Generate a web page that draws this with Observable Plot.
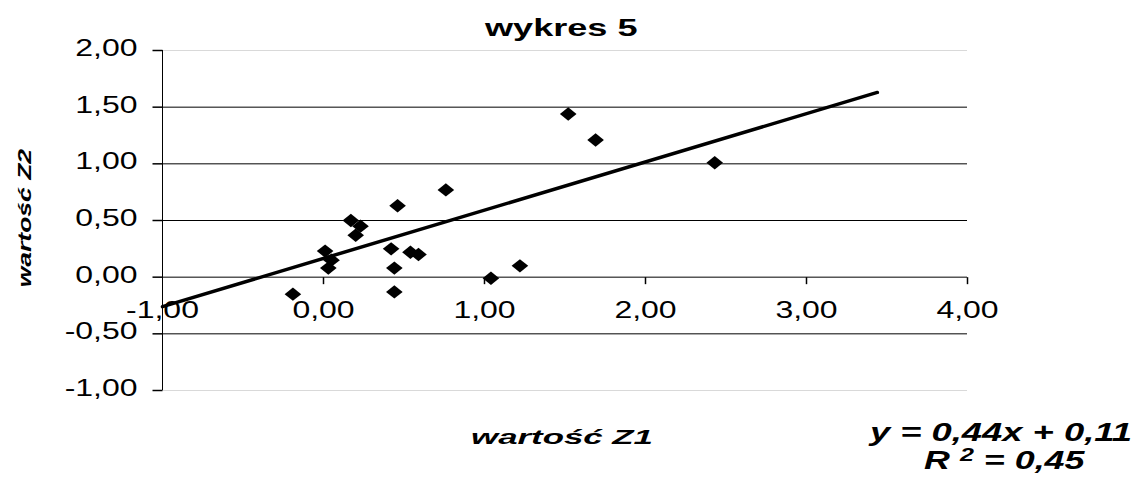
<!DOCTYPE html>
<html><head><meta charset="utf-8">
<script src="https://cdn.jsdelivr.net/npm/d3@7"></script>
<script src="https://cdn.jsdelivr.net/npm/@observablehq/plot@0.6"></script>
<style>body{margin:0;background:#fff} svg{display:block}</style>
</head><body>
<script>
// Data
const z1 = [-0.19, 0.01, 0.05, 0.03, 0.17, 0.23, 0.20, 0.46, 0.42, 0.44, 0.44, 0.54, 0.59, 0.76, 1.04, 1.22, 1.52, 1.69, 2.43];
const z2 = [-0.15, 0.23, 0.15, 0.08, 0.50, 0.45, 0.37, 0.63, 0.25, 0.08, -0.13, 0.22, 0.20, 0.77, -0.01, 0.10, 1.44, 1.21, 1.01];
const xTicks = [-1, 0, 1, 2, 3, 4];
const yTicks = [-1, -0.5, 0, 0.5, 1, 1.5, 2];
const trendX = [-1, 3.44];
const trendY = [-0.26, 1.63];
const titleText = "wykres 5";
const xLabel = "wartość Z1";
const yLabel = "wartość Z2";
const eqLine1 = "y = 0,44x + 0,11";
const eqLine2 = "R2 = 0,45";

const points = z1.map((x, i) => ({x, y: z2[i]}));
const trend = trendX.map((x, i) => ({x, y: trendY[i]}));
const fmt = d => d.toFixed(2).replace(".", ",");
const font = "'Liberation Sans', Arial, sans-serif";
const diamond = {draw(ctx) { ctx.moveTo(0, -6.7); ctx.lineTo(8.3, 0); ctx.lineTo(0, 6.7); ctx.lineTo(-8.3, 0); ctx.closePath(); }};
const tickDown = {draw(ctx) { ctx.moveTo(0, 0); ctx.lineTo(0, 7); }};
const tickLeft = {draw(ctx) { ctx.moveTo(-10, 0); ctx.lineTo(0, 0); }};
const yMin = yTicks[0], yMax = yTicks[yTicks.length - 1];

const svg = Plot.plot({
  width: 1137, height: 479,
  marginLeft: 162, marginRight: 170, marginTop: 50, marginBottom: 89,
  style: {fontFamily: font, fontSize: "23px", background: "#fff", color: "#000"},
  x: {domain: [xTicks[0], xTicks[xTicks.length - 1]], axis: null},
  y: {domain: [yMin, yMax], axis: null},
  marks: [
    Plot.ruleY(yTicks.filter(d => d > yMin && d < yMax), {y: d => d, stroke: "#000", strokeWidth: 1}),
    Plot.ruleY([yMin, yMax], {y: d => d, stroke: "#d9d9d9"}),
    Plot.ruleX([xTicks[0]], {x: d => d, y1: yMin, y2: yMax, stroke: "#000"}),
    Plot.dot(yTicks, {x: xTicks[0], y: d => d, symbol: tickLeft, stroke: "#000", fill: "none"}),
    Plot.dot(xTicks.slice(1), {x: d => d, y: 0, symbol: tickDown, stroke: "#000", fill: "none"}),
    Plot.text(xTicks, {x: d => d, y: 0, text: fmt, dy: 33, fontSize: 23, textAnchor: "middle"}),
    Plot.text(yTicks, {x: xTicks[0], y: d => d, text: fmt, textAnchor: "end", dx: -25, dy: -2, fontSize: 23}),
    Plot.line(trend, {x: "x", y: "y", stroke: "#000", strokeWidth: 3.5}),
    Plot.dot(points, {x: "x", y: "y", symbol: diamond, fill: "#000", stroke: "none"}),
    Plot.text([titleText], {frameAnchor: "top", textAnchor: "middle", lineAnchor: "bottom", dx: -4, dy: -15, fontSize: 24, fontWeight: "bold"}),
    Plot.text([xLabel], {frameAnchor: "bottom", textAnchor: "middle", lineAnchor: "bottom", dx: -3, dy: 53, fontSize: 21, fontWeight: "bold", fontStyle: "italic"}),
    Plot.text([yLabel], {frameAnchor: "left", textAnchor: "middle", lineAnchor: "middle", rotate: -90, dx: -137.5, dy: -2.5, fontSize: 19, fontWeight: "bold", fontStyle: "italic"}),
    Plot.text([eqLine1], {frameAnchor: "bottom-right", textAnchor: "middle", lineAnchor: "bottom", dx: 33, dy: 50, fontSize: 25, fontWeight: "bold", fontStyle: "italic"}),
    Plot.text([eqLine2], {frameAnchor: "bottom-right", textAnchor: "middle", lineAnchor: "bottom", dx: 37, dy: 78, fontSize: 25, fontWeight: "bold", fontStyle: "italic"})
  ]
});
document.body.appendChild(svg);

// Superscript the "2" of R²
svg.querySelectorAll("text").forEach(t => {
  if (t.textContent !== eqLine2) return;
  const ns = "http://www.w3.org/2000/svg";
  t.textContent = "";
  t.appendChild(document.createTextNode("R "));
  const sup = document.createElementNS(ns, "tspan");
  sup.setAttribute("dy", "-0.42em"); sup.setAttribute("font-size", "0.7em"); sup.textContent = "2";
  const rest = document.createElementNS(ns, "tspan");
  rest.setAttribute("dy", "0.3em"); rest.textContent = " = 0,45";
  t.appendChild(sup); t.appendChild(rest);
  t.setAttribute("data-key", eqLine2);
});

// The reference's text is stretched along its baseline; reproduce that.
const targets = new Map([[titleText, 154], [xLabel, 182], [yLabel, 139], [eqLine1, 265], [eqLine2, 162]]);
svg.querySelectorAll("text").forEach(t => {
  const s = t.getAttribute("data-key") || t.textContent;
  let b;
  try { b = t.getBBox(); } catch (e) { return; }
  if (!b || !b.width) return;
  let sx;
  if (targets.has(s)) sx = targets.get(s) / b.width;
  else if (/^-?\d,\d\d$/.test(s)) sx = 1.39;
  else return;
  const anchor = t.getAttribute("text-anchor") || (t.parentNode && t.parentNode.getAttribute && t.parentNode.getAttribute("text-anchor")) || getComputedStyle(t).textAnchor || "start";
  const ax = anchor === "end" ? b.x + b.width : anchor === "start" ? b.x : b.x + b.width / 2;
  const prev = t.getAttribute("transform") || "";
  t.setAttribute("transform", `${prev} translate(${ax},0) scale(${sx},1) translate(${-ax},0)`.trim());
});
</script>
</body></html>
